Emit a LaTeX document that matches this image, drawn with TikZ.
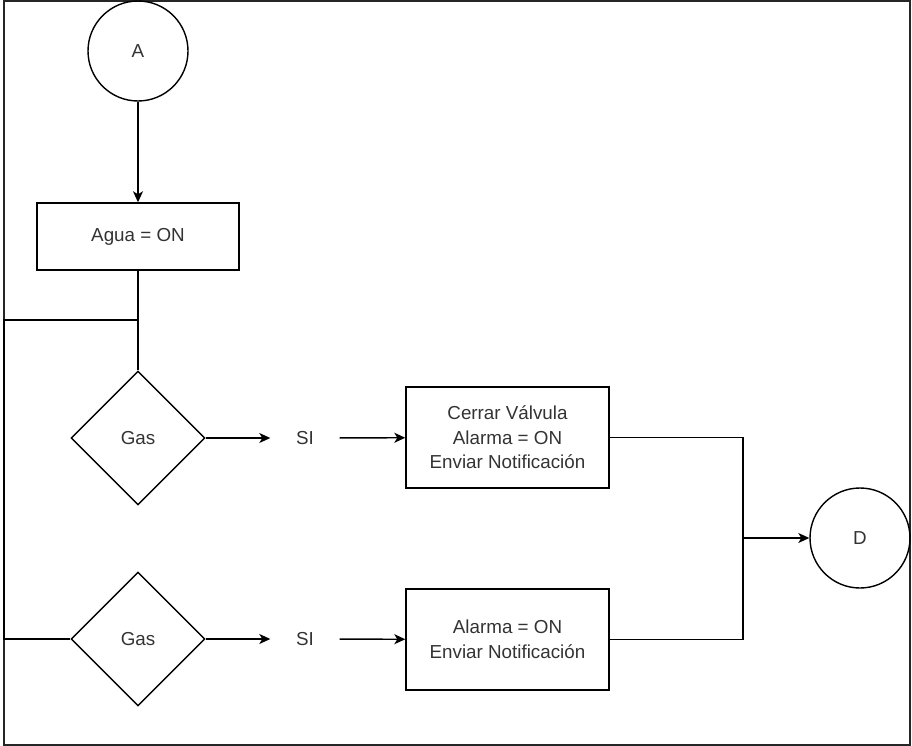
\documentclass[tikz,border=0pt]{standalone}
\usepackage{fontspec}
\setmainfont{Liberation Sans}
\usetikzlibrary{arrows.meta,shapes.geometric}
\begin{document}
\begin{tikzpicture}[x=1pt,y=-1pt,
  line width=1.4pt,
  every node/.style={font=\fontsize{18.8}{24.5}\selectfont, text=black!80},
  circ/.style={draw, circle, minimum size=100pt, inner sep=0pt},
  proc/.style={draw, rectangle, minimum width=203pt, inner sep=0pt, align=center},
  dec/.style={draw, diamond, minimum width=134pt, minimum height=134pt, inner sep=0pt},
  lbl/.style={minimum width=68pt, inner sep=0pt},
  arr/.style={-{Stealth[length=11pt,width=10pt,inset=3pt]}},
  frame/.style={draw=black!85, line width=1.2pt}]
\useasboundingbox (0,0) rectangle (912,746);
\draw[frame] (4,1) rectangle (910,745);

\node[circ] (A) at (138,51) {A};
\node[proc, minimum width=202pt, minimum height=67pt] (agua) at (138,236.5) {Agua = ON};
\node[dec] (g1) at (138,438) {Gas};
\node[dec] (g2) at (138,639) {Gas};
\node[lbl] (si1) at (305,438) {SI};
\node[lbl] (si2) at (305,639) {SI};
\node[proc, minimum height=101pt] (b1) at (507.5,437.5) {Cerrar Válvula\\Alarma = ON\\Enviar Notificación};
\node[proc, minimum height=101pt] (b2) at (507.5,639.5) {Alarma = ON\\Enviar Notificación};
\node[circ] (D) at (860,538) {D};

\coordinate (split) at (138,320);
\coordinate (lc1) at (4,320);
\coordinate (lc2) at (4,639);
\coordinate (j) at (743,538);

\draw[arr] (A) -- (agua);
\draw (agua) -- (g1);
\draw (split) -- (lc1) -- (lc2) -- (g2.west);
\draw[arr] (g1) -- (si1);
\draw[arr] (si1) -- (b1);
\draw[arr] (g2) -- (si2);
\draw[arr] (si2) -- (b2);
\draw (b1.east) -| (j);
\draw (b2.east) -| (j);
\draw[arr] (j) -- (D);
\end{tikzpicture}
\end{document}
